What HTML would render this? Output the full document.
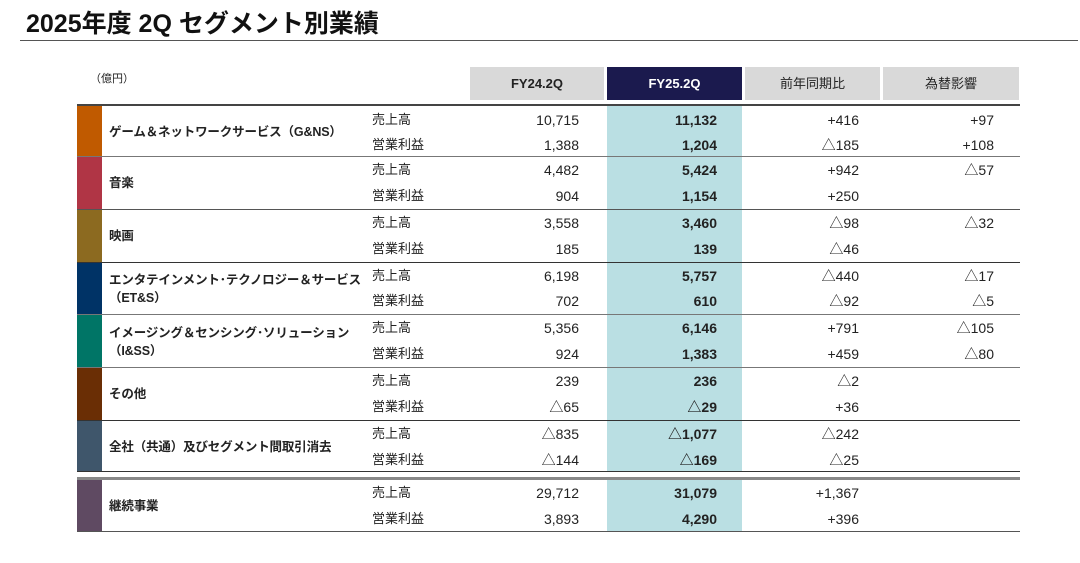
<!DOCTYPE html><html><head><meta charset="utf-8"><style>
body{margin:0;width:1080px;height:563px;background:#fff;position:relative;overflow:hidden;font-family:"Liberation Sans","Noto Sans CJK JP",sans-serif;color:#222}
div{position:absolute;white-space:nowrap}
.t{font-size:13px;line-height:16px}
.r{text-align:right;font-size:14px}
.b{font-weight:bold}
.s{font-size:12.5px;letter-spacing:-0.15px}
.h{top:67px;height:33px;line-height:33px;text-align:center;font-size:13px;background:#d9d9d9}
.line{left:77px;width:943px;height:2px;background:#444}
.bar{left:77px;width:25px}
</style></head><body>
<div style="left:26px;top:8px;font-size:25px;font-weight:bold;color:#111;line-height:32px">2025年度 2Q セグメント別業績</div>
<div style="left:20px;top:40px;width:1058px;height:1px;background:#555"></div>
<div style="left:90px;top:70px;font-size:11px">（億円）</div>
<div class="h b" style="left:470px;width:134px">FY24.2Q</div>
<div class="h b" style="left:607px;width:135px;background:#1b1a4e;color:#fff">FY25.2Q</div>
<div class="h" style="left:745px;width:135px">前年同期比</div>
<div class="h" style="left:883px;width:136px">為替影響</div>
<div style="left:607px;top:105px;width:135px;height:367px;background:#badfe3"></div>
<div style="left:607px;top:480px;width:135px;height:52px;background:#badfe3"></div>

<div class="bar" style="top:106px;height:50px;background:#c05a00"></div>
<div class="bar" style="top:157px;height:52px;background:#b03545"></div>
<div class="bar" style="top:210px;height:52px;background:#8c6a20"></div>
<div class="bar" style="top:263px;height:51px;background:#003366"></div>
<div class="bar" style="top:315px;height:52px;background:#007566"></div>
<div class="bar" style="top:368px;height:52px;background:#6a2e05"></div>
<div class="bar" style="top:421px;height:51px;background:#3f566b"></div>
<div class="bar" style="top:480px;height:51px;background:#5f4a62"></div>

<div class="line" style="top:104px"></div>
<div class="line" style="top:156px;height:1px;background:#777"></div>
<div class="line" style="top:209px;height:1px;background:#555"></div>
<div class="line" style="top:262px;height:1px;background:#333"></div>
<div class="line" style="top:314px;height:1px;background:#777"></div>
<div class="line" style="top:367px;height:1px;background:#777"></div>
<div class="line" style="top:420px;height:1px;background:#333"></div>
<div class="line" style="top:471px;height:1px;background:#333"></div>
<div class="line" style="top:477px;height:3px;background:#888"></div>
<div class="line" style="top:531px;height:1px;background:#555"></div>

<div class="t b s" style="left:109px;top:124px">ゲーム＆ネットワークサービス（G&amp;NS）</div>
<div class="t b s" style="left:109px;top:175px">音楽</div>
<div class="t b s" style="left:109px;top:228px">映画</div>
<div class="t b s" style="left:109px;top:272px">エンタテインメント･テクノロジー＆サービス</div>
<div class="t b s" style="left:109px;top:290px">（ET&amp;S）</div>
<div class="t b s" style="left:109px;top:325px">イメージング＆センシング･ソリューション</div>
<div class="t b s" style="left:109px;top:343px">（I&amp;SS）</div>
<div class="t b s" style="left:109px;top:386px">その他</div>
<div class="t b s" style="left:109px;top:439px">全社（共通）及びセグメント間取引消去</div>
<div class="t b s" style="left:109px;top:498px">継続事業</div>

<div class="t" style="left:372px;top:112px">売上高</div><div class="t" style="left:372px;top:137px">営業利益</div>
<div class="t" style="left:372px;top:162px">売上高</div><div class="t" style="left:372px;top:188px">営業利益</div>
<div class="t" style="left:372px;top:215px">売上高</div><div class="t" style="left:372px;top:241px">営業利益</div>
<div class="t" style="left:372px;top:268px">売上高</div><div class="t" style="left:372px;top:293px">営業利益</div>
<div class="t" style="left:372px;top:320px">売上高</div><div class="t" style="left:372px;top:346px">営業利益</div>
<div class="t" style="left:372px;top:373px">売上高</div><div class="t" style="left:372px;top:399px">営業利益</div>
<div class="t" style="left:372px;top:426px">売上高</div><div class="t" style="left:372px;top:452px">営業利益</div>
<div class="t" style="left:372px;top:485px">売上高</div><div class="t" style="left:372px;top:511px">営業利益</div>

<div class="t r" style="right:501px;top:112px">10,715</div><div class="t r" style="right:501px;top:137px">1,388</div>
<div class="t r" style="right:501px;top:162px">4,482</div><div class="t r" style="right:501px;top:188px">904</div>
<div class="t r" style="right:501px;top:215px">3,558</div><div class="t r" style="right:501px;top:241px">185</div>
<div class="t r" style="right:501px;top:268px">6,198</div><div class="t r" style="right:501px;top:293px">702</div>
<div class="t r" style="right:501px;top:320px">5,356</div><div class="t r" style="right:501px;top:346px">924</div>
<div class="t r" style="right:501px;top:373px">239</div><div class="t r" style="right:501px;top:399px">△65</div>
<div class="t r" style="right:501px;top:426px">△835</div><div class="t r" style="right:501px;top:452px">△144</div>
<div class="t r" style="right:501px;top:485px">29,712</div><div class="t r" style="right:501px;top:511px">3,893</div>

<div class="t r b" style="right:363px;top:112px">11,132</div><div class="t r b" style="right:363px;top:137px">1,204</div>
<div class="t r b" style="right:363px;top:162px">5,424</div><div class="t r b" style="right:363px;top:188px">1,154</div>
<div class="t r b" style="right:363px;top:215px">3,460</div><div class="t r b" style="right:363px;top:241px">139</div>
<div class="t r b" style="right:363px;top:268px">5,757</div><div class="t r b" style="right:363px;top:293px">610</div>
<div class="t r b" style="right:363px;top:320px">6,146</div><div class="t r b" style="right:363px;top:346px">1,383</div>
<div class="t r b" style="right:363px;top:373px">236</div><div class="t r b" style="right:363px;top:399px">△29</div>
<div class="t r b" style="right:363px;top:426px">△1,077</div><div class="t r b" style="right:363px;top:452px">△169</div>
<div class="t r b" style="right:363px;top:485px">31,079</div><div class="t r b" style="right:363px;top:511px">4,290</div>

<div class="t r" style="right:221px;top:112px">+416</div><div class="t r" style="right:221px;top:137px">△185</div>
<div class="t r" style="right:221px;top:162px">+942</div><div class="t r" style="right:221px;top:188px">+250</div>
<div class="t r" style="right:221px;top:215px">△98</div><div class="t r" style="right:221px;top:241px">△46</div>
<div class="t r" style="right:221px;top:268px">△440</div><div class="t r" style="right:221px;top:293px">△92</div>
<div class="t r" style="right:221px;top:320px">+791</div><div class="t r" style="right:221px;top:346px">+459</div>
<div class="t r" style="right:221px;top:373px">△2</div><div class="t r" style="right:221px;top:399px">+36</div>
<div class="t r" style="right:221px;top:426px">△242</div><div class="t r" style="right:221px;top:452px">△25</div>
<div class="t r" style="right:221px;top:485px">+1,367</div><div class="t r" style="right:221px;top:511px">+396</div>

<div class="t r" style="right:86px;top:112px">+97</div><div class="t r" style="right:86px;top:137px">+108</div>
<div class="t r" style="right:86px;top:162px">△57</div>
<div class="t r" style="right:86px;top:215px">△32</div>
<div class="t r" style="right:86px;top:268px">△17</div><div class="t r" style="right:86px;top:293px">△5</div>
<div class="t r" style="right:86px;top:320px">△105</div><div class="t r" style="right:86px;top:346px">△80</div>
</body></html>
